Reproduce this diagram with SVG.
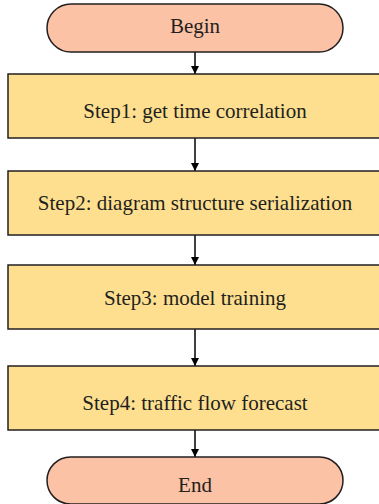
<svg xmlns="http://www.w3.org/2000/svg" width="379" height="504" viewBox="0 0 379 504">
<style>
.pill{fill:#FBC2A5;stroke:#231F20;stroke-width:1.5}
.box{fill:#FEDF8F;stroke:#231F20;stroke-width:1.5}
.t{font-family:"Liberation Serif",serif;font-size:21px;fill:#231F20;text-anchor:middle}
.c{stroke:#000;stroke-width:1.5;fill:none;marker-end:url(#ah)}
</style>
<defs>
<marker id="ah" markerWidth="8" markerHeight="8" refX="8" refY="4" orient="auto" markerUnits="userSpaceOnUse">
<path d="M0,0 L8,4 L0,8 Z" fill="#000"/>
</marker>
</defs>
<g id="connectors">
<line class="c" x1="195" y1="52" x2="195" y2="74"/>
<line class="c" x1="195" y1="138" x2="195" y2="171"/>
<line class="c" x1="195" y1="235" x2="195" y2="265"/>
<line class="c" x1="195" y1="329" x2="195" y2="366"/>
<line class="c" x1="195" y1="430" x2="195" y2="457"/>
</g>
<g id="begin">
<rect class="pill" x="47" y="4" width="296" height="48" rx="24" ry="24"/>
<text class="t" x="195" y="33">Begin</text>
</g>
<g id="step1">
<rect class="box" x="8" y="74" width="374" height="64"/>
<text class="t" x="195" y="118">Step1: get time correlation</text>
</g>
<g id="step2">
<rect class="box" x="8" y="171" width="374" height="64"/>
<text class="t" x="195" y="210">Step2: diagram structure serialization</text>
</g>
<g id="step3">
<rect class="box" x="8" y="265" width="374" height="64"/>
<text class="t" x="195" y="305">Step3: model training</text>
</g>
<g id="step4">
<rect class="box" x="8" y="366" width="374" height="64"/>
<text class="t" x="195" y="410">Step4: traffic flow forecast</text>
</g>
<g id="end">
<rect class="pill" x="47" y="457" width="296" height="47" rx="23.5" ry="23.5"/>
<text class="t" x="195" y="492">End</text>
</g>
</svg>
